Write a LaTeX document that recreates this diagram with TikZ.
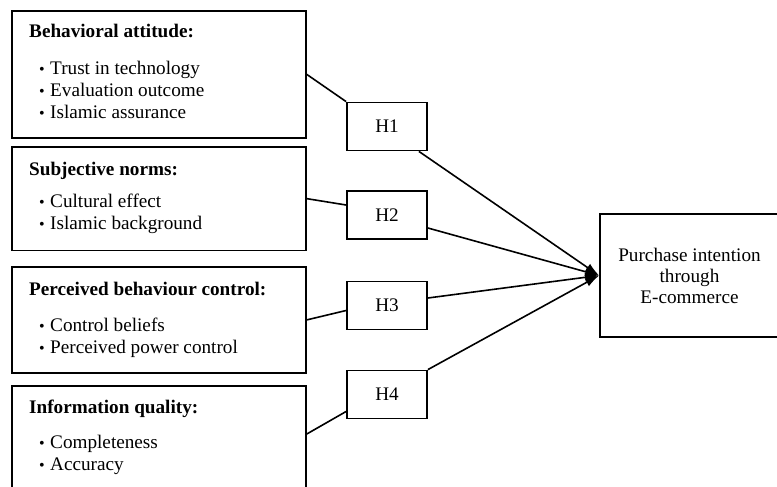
\documentclass[tikz,border=0pt]{standalone}
\usepackage{fontspec}
\setmainfont{Liberation Serif}
\usetikzlibrary{arrows.meta}
\begin{document}
\begin{tikzpicture}[x=1pt,y=-1pt,
  box/.style={draw, line width=1.8pt, anchor=north west, inner sep=0pt},
  hbox/.style={draw, line width=1.8pt, minimum width=80pt, minimum height=48pt, inner sep=0pt, font=\fontsize{19.2}{21}\selectfont},
  head/.style={anchor=base west, inner sep=0pt, font=\fontsize{19.2}{21}\selectfont\bfseries},
  item/.style={anchor=base west, inner sep=0pt, font=\fontsize{19.2}{21}\selectfont},
  bul/.style={anchor=base west, inner sep=0pt, font=\fontsize{16}{21}\selectfont},
  link/.style={line width=1.6pt},
  arr/.style={line width=1.6pt, -{Latex[length=14pt,width=9pt]}}]
\useasboundingbox (0,0) rectangle (777,487);
% left boxes
\node[box, minimum width=294pt, minimum height=127pt] (b1) at (11,10) {};
\node[box, minimum width=294pt, minimum height=103.5pt] (b2) at (11,146) {};
\node[box, minimum width=294pt, minimum height=106pt] (b3) at (11,266) {};
\node[box, minimum width=294pt, minimum height=130pt] (b4) at (11,385) {};
% texts box 1
\node[head] (t1) at (29,38) {Behavioral attitude:};
\node[bul] (t1a) at (39,75) {•}; \node[item] (t1b) at (50,75) {Trust in technology};
\node[bul] (t1c) at (39,96.5) {•}; \node[item] (t1d) at (50,96.5) {Evaluation outcome};
\node[bul] (t1e) at (39,118) {•}; \node[item] (t1f) at (50,118) {Islamic assurance};
% box 2
\node[head] (t2) at (29,175) {Subjective norms:};
\node[bul] (t2a) at (39,207) {•}; \node[item] (t2b) at (50,207) {Cultural effect};
\node[bul] (t2c) at (39,229) {•}; \node[item] (t2d) at (50,229) {Islamic background};
% box 3
\node[head] (t3) at (29,295) {Perceived behaviour control:};
\node[bul] (t3a) at (39,331) {•}; \node[item] (t3b) at (50,331) {Control beliefs};
\node[bul] (t3c) at (39,353) {•}; \node[item] (t3d) at (50,353) {Perceived power control};
% box 4
\node[head] (t4) at (29,413) {Information quality:};
\node[bul] (t4a) at (39,448) {•}; \node[item] (t4b) at (50,448) {Completeness};
\node[bul] (t4c) at (39,470) {•}; \node[item] (t4d) at (50,470) {Accuracy};
% hypothesis boxes
\node[hbox] (h1) at (387,126.5) {H1};
\node[hbox] (h2) at (387,215) {H2};
\node[hbox] (h3) at (387,305.5) {H3};
\node[hbox] (h4) at (387,394.5) {H4};
% target
\node[draw, line width=1.8pt, minimum width=179pt, minimum height=123pt, inner sep=0pt, align=center, font=\fontsize{19.2}{21}\selectfont] (t) at (689.5,275.5) {Purchase intention\\through\\E-commerce};
% connectors
\draw[link] (b1.east) -- (h1.north west);
\draw[link] (b2.east) -- ([yshift=10pt]h2.west);
\draw[link] (b3.east) -- ([yshift=-5pt]h3.west);
\draw[link] ([yshift=-49pt]b4.north east) -- ([yshift=-17pt]h4.west);
\draw[arr] ([xshift=-9pt]h1.south east) -- (t.west);
\draw[arr] ([yshift=-13pt]h2.east) -- (t.west);
\draw[arr] ([yshift=7.5pt]h3.east) -- (t.west);
\draw[arr] (h4.north east) -- (t.west);
\end{tikzpicture}
\end{document}
